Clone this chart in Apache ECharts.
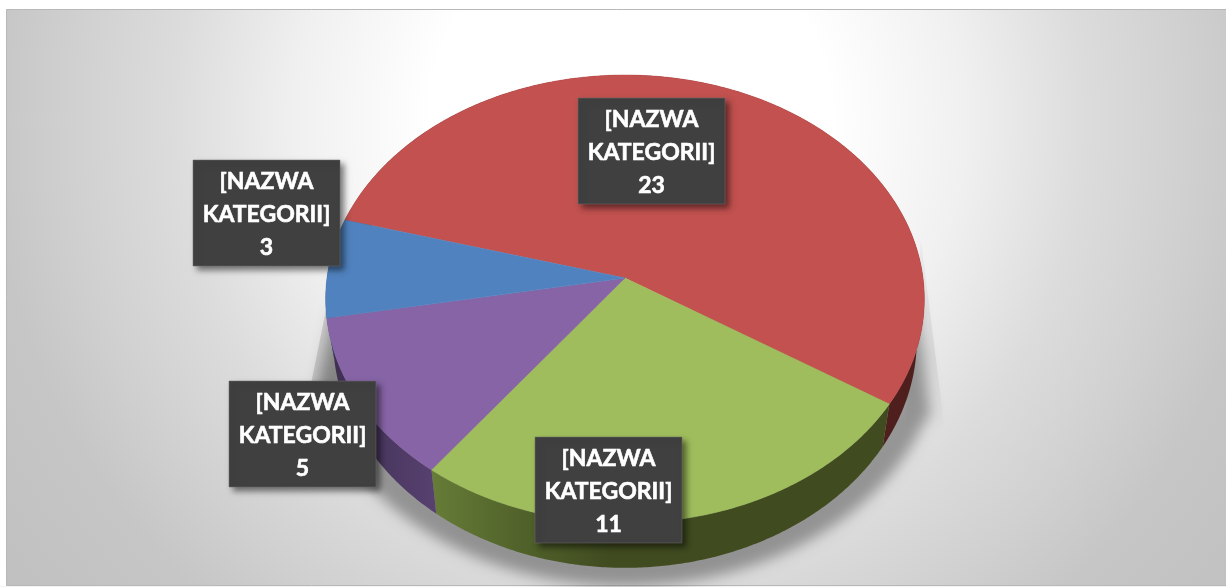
<!DOCTYPE html>
<html>
<head>
<meta charset="utf-8">
<style>
    html, body { margin: 0; padding: 0; background: #fff; }
    #chart { width: 1226px; height: 587px; }
</style>
<script src="https://cdn.jsdelivr.net/npm/echarts@6/dist/echarts.min.js"></script>
</head>
<body>
<div id="chart"></div>
<script>
const categories = ['[NAZWA\nKATEGORII]', '[NAZWA\nKATEGORII]', '[NAZWA\nKATEGORII]', '[NAZWA\nKATEGORII]'];
const values = [23, 11, 5, 3];
const topColors = ['#C2514F', '#9FBD5C', '#8664A6', '#5082BF'];

// label boxes were dragged by hand in the original: left, top
const labelBoxes = [[578, 98], [535, 437], [229, 381], [193, 160]];
const boxW = 147, boxH = 106;

// perspective of the disc
const cx = 625, cy = 278, rx = 298, ry = 222, tilt = 0.09375;
const startAngle = 195.5;
const total = values.reduce((a, b) => a + b, 0);

function topRim(t) {
    const a = t * Math.PI / 180;
    const w = 1 - tilt * Math.sin(a);
    return [cx + rx * Math.cos(a) / w, cy + ry * Math.sin(a) / w];
}
function bottomRim(t) {
    const p = topRim(t);
    return [cx + (p[0] - cx) * 0.975, cy + 40 + (p[1] - cy) * 1.02];
}
function arc(fn, from, to) {
    const pts = [];
    const n = Math.ceil(Math.abs(to - from) * 2);
    for (let i = 0; i <= n; i++) pts.push(fn(from + (to - from) * i / n));
    return pts;
}
function sliceRange(i) {
    let sum = 0;
    for (let j = 0; j < i; j++) sum += values[j];
    return [startAngle + sum / total * 360, startAngle + (sum + values[i]) / total * 360];
}

const sideFills = [
    new echarts.graphic.LinearGradient(880, 0, 925, 0, [{ offset: 0, color: '#4f1f1e' }, { offset: 1, color: '#4f1f1e' }], true),
    new echarts.graphic.LinearGradient(431, 0, 610, 0, [{ offset: 0, color: '#667c37' }, { offset: 0.55, color: '#4f6029' }, { offset: 1, color: '#404b20' }], true),
    new echarts.graphic.LinearGradient(330, 0, 436, 0, [{ offset: 0, color: '#3e2f50' }, { offset: 1, color: '#574170' }], true),
    new echarts.graphic.LinearGradient(326, 0, 340, 0, [{ offset: 0, color: '#2b4464' }, { offset: 1, color: '#2b4464' }], true)
];

// shadow outline, only its blurred copy is seen
const shadowPts = [[915, 300], [930, 415]]
    .concat(arc(t => [cx + 318 * Math.cos(t * Math.PI / 180), 338 + 248 * Math.sin(t * Math.PI / 180)], 20, 165))
    .concat([[318, 385], [335, 310]]);

const chart = echarts.init(document.getElementById('chart'), null, { renderer: 'canvas' });
chart.setOption({
    animation: false,
    backgroundColor: '#fff',
    graphic: [
        {
            type: 'rect',
            z: 0,
            shape: { x: 6.5, y: 9.5, width: 1225, height: 576 },
            style: {
                fill: new echarts.graphic.RadialGradient(630, 120, 800, [
                    { offset: 0, color: '#ffffff' },
                    { offset: 0.25, color: '#ffffff' },
                    { offset: 0.42, color: '#f0f0f0' },
                    { offset: 0.57, color: '#dcdcdc' },
                    { offset: 0.7, color: '#d0d0d0' },
                    { offset: 0.8, color: '#c6c6c6' },
                    { offset: 1, color: '#bfbfbf' }
                ], true),
                stroke: '#b8b8b8',
                lineWidth: 1
            }
        },
        {
            type: 'rect',
            z: 1,
            shape: { x: 0, y: 586, width: 1226, height: 1 },
            style: { fill: '#f4f4f4' }
        },
        {
            type: 'polygon',
            z: 1,
            x: -2000,
            shape: { points: shadowPts },
            style: {
                fill: '#000',
                shadowColor: 'rgba(0,0,0,0.34)',
                shadowBlur: 14,
                shadowOffsetX: 2000
            }
        },
        {
            // crisp slivers of shadow beside the disc
            type: 'polygon',
            z: 1,
            shape: { points: [[921, 240], [945, 432], [905, 432]] },
            style: {
                fill: new echarts.graphic.LinearGradient(0, 240, 0, 432, [
                    { offset: 0, color: 'rgba(0,0,0,0.03)' },
                    { offset: 0.6, color: 'rgba(0,0,0,0.07)' },
                    { offset: 1, color: 'rgba(0,0,0,0)' }
                ], true)
            }
        },
        {
            type: 'polygon',
            z: 1,
            shape: { points: [[328, 300], [311, 384], [345, 384]] },
            style: { fill: 'rgba(0,0,0,0.13)' }
        }
    ],
    series: [
        {
            // disc wall
            type: 'custom',
            coordinateSystem: 'none',
            z: 2,
            silent: true,
            data: values,
            renderItem: (params) => {
                const r = sliceRange(params.dataIndex);
                const pts = arc(topRim, r[0], r[1]).concat(arc(bottomRim, r[1], r[0]));
                return { type: 'polygon', shape: { points: pts }, style: { fill: sideFills[params.dataIndex] } };
            }
        },
        {
            // disc face
            type: 'custom',
            coordinateSystem: 'none',
            z: 3,
            silent: true,
            data: values,
            renderItem: (params) => {
                const r = sliceRange(params.dataIndex);
                const pts = [[cx, cy]].concat(arc(topRim, r[0], r[1]));
                const c = topColors[params.dataIndex];
                return { type: 'polygon', shape: { points: pts }, style: { fill: c, stroke: c, lineWidth: 0.5 } };
            }
        },
        {
            type: 'custom',
            coordinateSystem: 'none',
            z: 4,
            silent: true,
            data: values,
            renderItem: (params, api) => {
                const i = params.dataIndex;
                const b = labelBoxes[i];
                return {
                    type: 'group',
                    children: [
                        {
                            type: 'rect',
                            shape: { x: b[0], y: b[1], width: boxW, height: boxH },
                            style: {
                                fill: '#404040',
                                stroke: '#6e6e6e',
                                lineWidth: 0.5,
                                shadowColor: 'rgba(0,0,0,0.5)',
                                shadowBlur: 6,
                                shadowOffsetX: 4,
                                shadowOffsetY: 4
                            }
                        },
                        {
                            type: 'text',
                            style: {
                                x: b[0] + boxW / 2,
                                y: b[1] + boxH / 2 + 2,
                                text: categories[i] + '\n' + api.value(0),
                                fill: '#fff',
                                stroke: '#fff',
                                lineWidth: 0.6,
                                font: 'bold 23px Lato',
                                lineHeight: 33,
                                align: 'center',
                                verticalAlign: 'middle'
                            }
                        }
                    ]
                };
            }
        }
    ]
});
</script>
</body>
</html>
